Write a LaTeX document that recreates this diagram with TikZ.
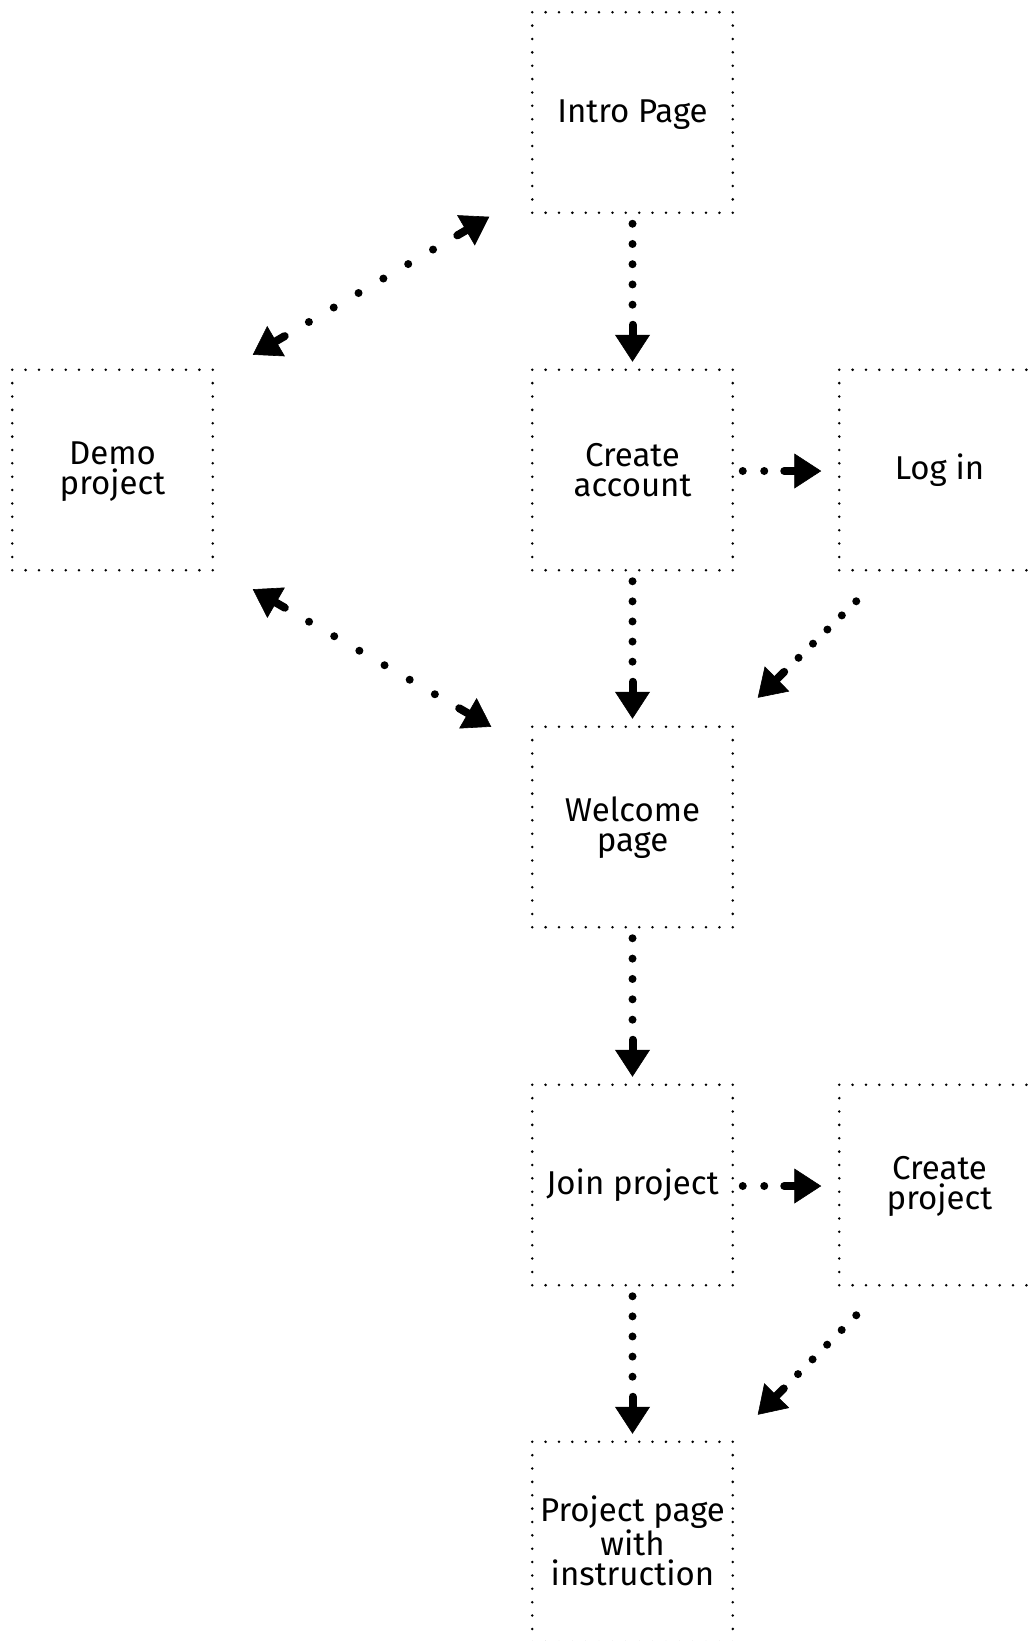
\documentclass[tikz,border=0pt]{standalone}
\usepackage{fontspec}
\IfFontExistsTF{FiraSans-Light.otf}{\setmainfont{FiraSans-Light.otf}}{\setmainfont{Fira Sans}}
\usetikzlibrary{arrows.meta,calc}

% line strut: fixed height and depth so every line sits the same way
\newcommand\ls{\rule[-3.5pt]{0pt}{30pt}}

\tikzset{
  x=1pt, y=1pt,
  page/.style={draw, line width=2.8pt, line cap=round,
    dash pattern=on 0pt off 13.367pt,
    minimum width=200.5pt, minimum height=200.5pt,
    inner sep=0pt, outer sep=0pt, align=center,
    font=\fontsize{33}{30}\selectfont},
  flowdots/.style={line width=8pt, line cap=round},
  flowstub/.style={line width=8pt, line cap=round},
  flowhead/.style={line width=0.6pt, -{Triangle[length=27pt,width=35pt]}},
}

% evenly spaced round dots from #1 to #2, roughly #3 apart
\newcommand\dotrun[3]{%
  \draw[flowdots] let \p1=(#1), \p2=(#2),
    \n1={veclen(\x2-\x1,\y2-\y1)},
    \n2={max(1,round(\n1/#3))},
    \n3={\n1/\n2-0.02}
    in [dash pattern=on 0pt off \n3] (\p1) -- (\p2);}

% one-way connector: dots, a short bar and a solid head at #3
\newcommand\flowto[3][20]{%
  \dotrun{$(#2)$}{$(#3)!57pt!(#2)$}{#1}
  \draw[flowstub] ($(#3)!37pt!(#2)$) -- ($(#3)!26pt!(#2)$);
  \draw[flowhead] ($(#3)!30pt!(#2)$) -- (#3);}

% two-way connector with heads at both ends
\newcommand\flowboth[3][28]{%
  \dotrun{$(#2)!65pt!(#3)$}{$(#3)!65pt!(#2)$}{#1}
  \draw[flowstub] ($(#3)!37pt!(#2)$) -- ($(#3)!26pt!(#2)$);
  \draw[flowhead] ($(#3)!30pt!(#2)$) -- (#3);
  \draw[flowstub] ($(#2)!37pt!(#3)$) -- ($(#2)!26pt!(#3)$);
  \draw[flowhead] ($(#2)!30pt!(#3)$) -- (#2);}

\begin{document}
\begin{tikzpicture}
\useasboundingbox (0,0) rectangle (1034,-1641);

% screens
\node[page] (intro)      at (632.5,-112.5) {\ls Intro Page};
\node[page] (demo)       at (112.5,-470)   {\ls Demo\\\ls project};
\node[page] (create)     at (632.5,-470)   {\ls Create\\\ls account};
\node[page] (login)      at (939.5,-470)   {\ls Log in};
\node[page] (welcome)    at (632.5,-827)   {\ls Welcome\\\ls page};
\node[page] (join)       at (632.5,-1185)  {\ls Join project};
\node[page] (createproj) at (939.5,-1185)  {\ls Create\\\ls project};
\node[page] (projpage)   at (632.5,-1542)  {\ls Project page\\\ls with\\\ls instruction};

% connector ends
\coordinate (a1s) at ([yshift=-11pt]intro.south);
\coordinate (a1e) at ([yshift=8pt]create.north);
\coordinate (a2s) at ([yshift=-11pt]create.south);
\coordinate (a2e) at ([yshift=8pt]welcome.north);
\coordinate (a3s) at ([yshift=-11pt]welcome.south);
\coordinate (a3e) at ([yshift=8pt]join.north);
\coordinate (a4s) at ([yshift=-11pt]join.south);
\coordinate (a4e) at ([yshift=8pt]projpage.north);

\coordinate (h1s) at ([shift={(10pt,-1pt)}]create.east);
\coordinate (h1e) at ([shift={(-18pt,-1pt)}]login.west);
\coordinate (h2s) at ([shift={(10pt,-1pt)}]join.east);
\coordinate (h2e) at ([shift={(-18pt,-1pt)}]createproj.west);

\coordinate (d1s) at ([shift={(17pt,-31pt)}]login.south west);
\coordinate (d1e) at ([shift={(25pt,29pt)}]welcome.north east);
\coordinate (d2s) at ([shift={(17pt,-30pt)}]createproj.south west);
\coordinate (d2e) at ([shift={(25pt,27pt)}]projpage.north east);

\coordinate (d3a) at ([shift={(40pt,15pt)}]demo.north east);
\coordinate (d3b) at ([shift={(-43pt,-4pt)}]intro.south west);
\coordinate (d4a) at ([shift={(40pt,-19pt)}]demo.south east);
\coordinate (d4b) at ([shift={(-41pt,0pt)}]welcome.north west);

% connectors
\flowto{a1s}{a1e}
\flowto{a2s}{a2e}
\flowto{a3s}{a3e}
\flowto{a4s}{a4e}
\flowto{h1s}{h1e}
\flowto{h2s}{h2e}
\flowto{d1s}{d1e}
\flowto{d2s}{d2e}
\flowboth{d3a}{d3b}
\flowboth{d4a}{d4b}
\end{tikzpicture}
\end{document}
